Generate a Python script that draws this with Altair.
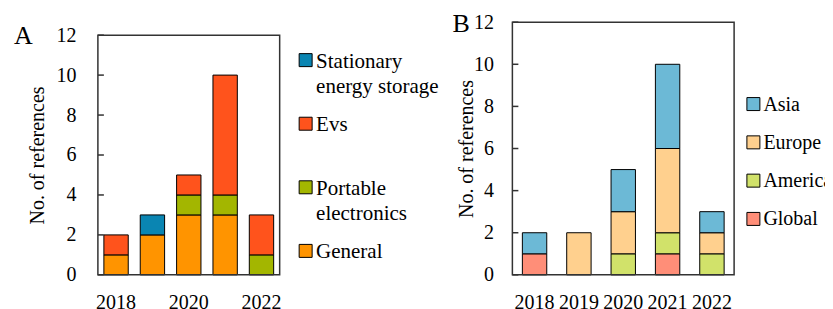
import altair as alt
import pandas as pd

FONT = "Liberation Serif"

years = [2018, 2019, 2020, 2021, 2022]
y_ticks = [0, 2, 4, 6, 8, 10, 12]

# Panel A (stack order bottom -> top)
a_series = ["General", "Portable electronics", "Evs", "Stationary energy storage"]
a_general = [1, 2, 3, 3, 0]
a_portable = [0, 0, 1, 1, 1]
a_evs = [1, 0, 1, 6, 2]
a_stationary = [0, 1, 0, 0, 0]
a_colors = ["#FF9400", "#A3B600", "#FF531C", "#0A85B2"]
a_legend_order = ["Stationary energy storage", "Evs", "Portable electronics", "General"]
a_legend_text = ["Stationary\nenergy storage", "Evs", "Portable\nelectronics", "General"]

# Panel B (stack order bottom -> top)
b_series = ["Global", "America", "Europe", "Asia"]
b_global = [1, 0, 0, 1, 0]
b_america = [0, 0, 1, 1, 1]
b_europe = [0, 2, 2, 4, 1]
b_asia = [1, 0, 2, 4, 1]
b_colors = ["#FF8E78", "#D1E26A", "#FFD08E", "#6CB9D6"]
b_legend_order = ["Asia", "Europe", "America", "Global"]
b_legend_text = ["Asia", "Europe", "America", "Global"]

PLOT_H = 253


def to_long(series, values_list):
    rows = []
    for k, (s, vals) in enumerate(zip(series, values_list)):
        for yr, v in zip(years, vals):
            if v > 0:
                rows.append({"year": yr, "series": s, "count": v, "order": k})
    return pd.DataFrame(rows)


def panel(df, series, colors, ytop, width, pad_inner, label_expr, label_pad,
          title_x, title_y, letter, letter_dx, letter_dy):
    yscale = alt.Scale(domain=[0, ytop], nice=False)
    xaxis_kw = dict(title=None, labelAngle=0, ticks=False, domain=False,
                    labelPadding=18, tickSize=0)
    if label_expr:
        xaxis_kw["labelExpr"] = label_expr
    yaxis_kw = dict(values=y_ticks, title="No. of references", ticks=False,
                    domain=False, grid=False, labelPadding=label_pad, tickSize=0,
                    titleX=title_x)
    if title_y is not None:
        yaxis_kw["titleY"] = title_y
    bars = alt.Chart(df).mark_bar(stroke="black", strokeWidth=1, opacity=1).encode(
        x=alt.X("year:O",
                scale=alt.Scale(paddingInner=pad_inner, paddingOuter=pad_inner / 2),
                axis=alt.Axis(**xaxis_kw)),
        y=alt.Y("count:Q", stack="zero", scale=yscale, axis=alt.Axis(**yaxis_kw),
                title="No. of references"),
        color=alt.Color("series:N", scale=alt.Scale(domain=series, range=colors),
                        legend=None),
        order=alt.Order("order:Q", sort="ascending"),
    )
    tick_df = pd.DataFrame({"t": y_ticks})
    ticks = alt.Chart(tick_df).mark_rule(color="#333333", strokeWidth=1.5).encode(
        y=alt.Y("t:Q", scale=yscale, title="No. of references"),
        x=alt.value(0),
        x2=alt.value(6),
    )
    frame = alt.Chart(pd.DataFrame({"top": [max(y_ticks)]})).mark_rect(
        fillOpacity=0, stroke="#333333", strokeWidth=1.5
    ).encode(
        y=alt.Y("top:Q", scale=yscale, title="No. of references"),
        y2=alt.datum(0),
        x=alt.value(0),
        x2=alt.value(width),
    )
    return alt.layer(bars, ticks, frame).properties(
        width=width,
        height=PLOT_H,
        title=alt.TitleParams(letter, anchor="start", orient="top", font=FONT,
                              fontSize=26, fontWeight="normal", color="black",
                              dx=letter_dx, dy=letter_dy),
    )


def legend(order, texts, series, colors, rng, sym_x, text_x, width, font_size):
    df = pd.DataFrame({"series": order, "label": texts})
    y = alt.Y("series:N", scale=alt.Scale(type="point", domain=order, range=rng,
                                          padding=0), axis=None)
    sq = alt.Chart(df).mark_square(size=169, stroke="black", strokeWidth=1,
                                   opacity=1).encode(
        x=alt.value(sym_x),
        y=y,
        color=alt.Color("series:N", scale=alt.Scale(domain=series, range=colors),
                        legend=None),
    )
    tx = alt.Chart(df).mark_text(align="left", baseline="top", dy=-9.5,
                                 lineBreak="\n", lineHeight=25, font=FONT,
                                 fontSize=font_size, color="black").encode(
        x=alt.value(text_x),
        y=y,
        text="label:N",
    )
    return alt.layer(sq, tx).properties(width=width, height=PLOT_H)


dfA = to_long(a_series, [a_general, a_portable, a_evs, a_stationary])
dfB = to_long(b_series, [b_global, b_america, b_europe, b_asia])

chartA = panel(dfA, a_series, a_colors, 12.65, 182, 0.33,
               "toNumber(datum.value) % 2 == 0 ? datum.value : ''", 22,
               -50.5, 133, "A", -13.5, 31)
legA = legend(a_legend_order, a_legend_text, a_series, a_colors, [38, 229],
              26, 36.5, 232.5, 21)
chartB = panel(dfB, b_series, b_colors, 12, 222, 0.45, None, 19,
               -36, None, "B", -4, 29)
legB = legend(b_legend_order, b_legend_text, b_series, b_colors, [82, 197],
              19.3, 29.3, 70, 20)

chart = alt.hconcat(chartA, legA, chartB, legB, spacing=0, bounds="flush").resolve_scale(
    color="independent"
).configure_axis(
    labelFont=FONT, titleFont=FONT, labelFontSize=20, titleFontSize=20,
    labelColor="black", titleColor="black", titleFontWeight="normal",
).configure_view(strokeWidth=0).configure_title(font=FONT).properties(
    padding={"left": 5, "top": 3, "right": -8, "bottom": 0}
)

chart.save("out.html", embed_options={"renderer": "svg", "actions": False})
